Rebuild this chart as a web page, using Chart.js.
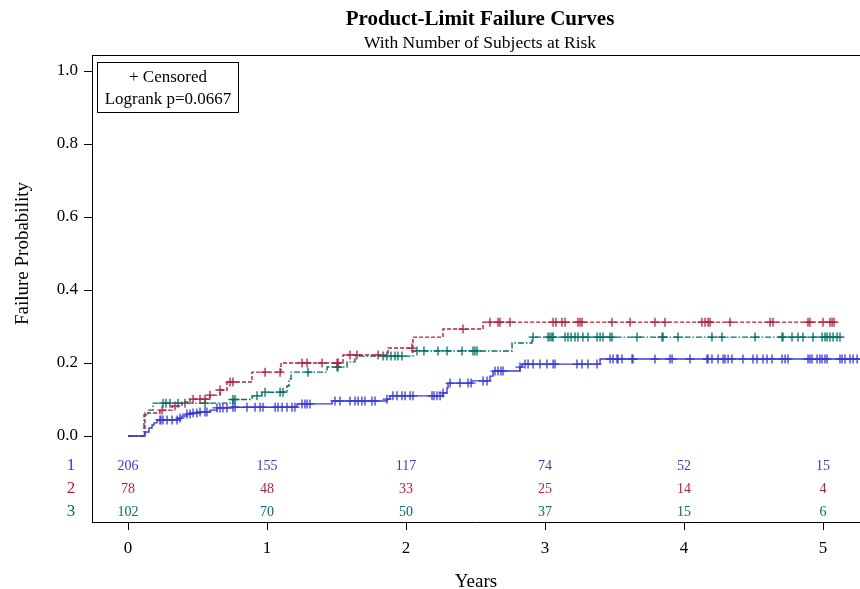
<!DOCTYPE html>
<html>
<head>
<meta charset="utf-8">
<script src="https://cdn.jsdelivr.net/npm/chart.js@4.4.1/dist/chart.umd.min.js"></script>
<style>
  html, body { margin: 0; padding: 0; background: #fff; }
  #wrap { width: 860px; height: 589px; }
</style>
</head>
<body>
<div id="wrap"><canvas id="km" width="860" height="589"></canvas></div>
<script>
// ---- data ----
var groupNames = ['1', '2', '3'];
var groupColors = ['#3838e2', '#b81f3c', '#00706a'];

// step curves: time (years) and failure probability after that time
var timesG1 = [0, 0.122, 0.151, 0.173, 0.187, 0.209, 0.360, 0.388, 0.424, 0.460, 0.518, 0.590, 0.640, 0.755, 1.216, 1.468, 1.863, 1.885, 2.266, 2.295, 2.302, 2.475, 2.604, 2.626, 2.820, 2.835, 3.396, 5.300];
var probG1  = [0, 0.011, 0.022, 0.030, 0.036, 0.044, 0.049, 0.055, 0.060, 0.063, 0.066, 0.071, 0.077, 0.079, 0.088, 0.096, 0.101, 0.110, 0.118, 0.132, 0.145, 0.151, 0.164, 0.178, 0.189, 0.197, 0.211, 0.211];

var timesG2 = [0, 0.122, 0.230, 0.317, 0.388, 0.446, 0.590, 0.662, 0.712, 0.892, 1.101, 1.547, 1.871, 2.050, 2.266, 2.554, 5.086];
var probG2  = [0, 0.063, 0.071, 0.082, 0.093, 0.101, 0.112, 0.126, 0.148, 0.175, 0.200, 0.222, 0.241, 0.271, 0.293, 0.312, 0.312];

var timesG3 = [0, 0.115, 0.144, 0.180, 0.755, 0.892, 0.964, 1.144, 1.158, 1.173, 1.432, 1.576, 1.633, 2.050, 2.763, 2.906, 5.144];
var probG3  = [0, 0.058, 0.071, 0.090, 0.100, 0.110, 0.120, 0.137, 0.156, 0.175, 0.189, 0.203, 0.219, 0.233, 0.255, 0.271, 0.271];

// censoring times (years)
var censorG1 = [0.230, 0.237, 0.252, 0.281, 0.317, 0.353, 0.374, 0.424, 0.446, 0.468, 0.496, 0.518, 0.554, 0.568,
  0.640, 0.662, 0.683, 0.712, 0.755, 0.770, 0.856, 0.914, 0.950, 0.971, 1.058, 1.079, 1.108, 1.144, 1.180, 1.201,
  1.252, 1.273, 1.288, 1.309, 1.489, 1.525, 1.597, 1.633, 1.655, 1.683, 1.705, 1.755, 1.777, 1.863,
  1.906, 1.935, 1.971, 1.993, 2.029, 2.050, 2.187, 2.201, 2.223, 2.245, 2.266, 2.317, 2.388, 2.446, 2.468, 2.554, 2.583,
  2.640, 2.662, 2.683, 2.698, 2.820, 2.856, 2.878, 2.914, 2.964, 3.014, 3.058, 3.072, 3.230, 3.266, 3.309, 3.374,
  3.468, 3.489, 3.518, 3.525, 3.554, 3.626, 3.633, 3.791, 3.899, 3.914, 4.043, 4.165, 4.173, 4.201, 4.245, 4.281,
  4.295, 4.317, 4.345, 4.424, 4.496, 4.525, 4.568, 4.597, 4.633, 4.705, 4.727, 4.748, 4.892, 4.906, 4.921, 4.957,
  4.978, 4.993, 5.014, 5.029, 5.122, 5.137, 5.158, 5.194, 5.216, 5.245];
var censorG2 = [0.245, 0.338, 0.468, 0.518, 0.554, 0.590, 0.662, 0.734, 0.755, 0.986, 1.094, 1.252, 1.288, 1.396,
  1.504, 1.511, 1.597, 1.647, 1.799, 2.043, 2.410, 2.604, 2.662, 2.676, 2.748, 3.058, 3.079, 3.122, 3.144, 3.237,
  3.252, 3.266, 3.482, 3.612, 3.791, 3.863, 4.129, 4.151, 4.173, 4.187, 4.331, 4.619, 4.640, 4.892, 4.906, 5.000,
  5.050, 5.065, 5.079];
var censorG3 = [0.252, 0.273, 0.302, 0.360, 0.410, 0.554, 0.755, 0.770, 0.928, 0.986, 1.094, 1.115, 1.295, 1.504,
  1.511, 1.835, 1.863, 1.892, 1.921, 1.942, 1.971, 2.079, 2.129, 2.230, 2.295, 2.403, 2.482, 2.496, 2.511, 2.914,
  3.022, 3.036, 3.050, 3.058, 3.144, 3.165, 3.187, 3.216, 3.237, 3.273, 3.309, 3.374, 3.396, 3.417, 3.468, 3.482,
  3.662, 3.842, 3.849, 3.957, 4.201, 4.273, 4.511, 4.705, 4.712, 4.777, 4.820, 4.856, 4.928, 4.993, 5.014, 5.029,
  5.050, 5.072, 5.101, 5.122];

// number at risk
var atRiskTimes = [0, 1, 2, 3, 4, 5];
var atRiskG1 = [206, 155, 117, 74, 52, 15];
var atRiskG2 = [78, 48, 33, 25, 14, 4];
var atRiskG3 = [102, 70, 50, 37, 15, 6];

var xTicks = [0, 1, 2, 3, 4, 5];
var yTicks = [0, 0.2, 0.4, 0.6, 0.8, 1.0];

var FONT = "'Liberation Serif', 'Times New Roman', serif";

function curvePoints(times, probs) {
  return times.map(function (t, i) { return { x: t, y: probs[i] }; });
}
function valueAt(times, probs, t) {
  var v = probs[0];
  for (var i = 0; i < times.length; i++) {
    if (times[i] <= t) v = probs[i];
  }
  return v;
}
function censorPoints(cens, times, probs) {
  return cens.map(function (t) { return { x: t, y: valueAt(times, probs, t) }; });
}

var curves = [[timesG1, probG1, censorG1, []], [timesG2, probG2, censorG2, [4, 2]], [timesG3, probG3, censorG3, [6, 2, 1.5, 2]]];
var atRisk = [atRiskG1, atRiskG2, atRiskG3];

var datasets = [];
curves.forEach(function (c, i) {
  datasets.push({
    label: 'Group ' + groupNames[i],
    data: curvePoints(c[0], c[1]),
    showLine: true,
    stepped: true,
    borderColor: groupColors[i],
    borderWidth: 1.4,
    borderDash: c[3],
    pointRadius: 0,
    fill: false
  });
  datasets.push({
    label: 'Censored ' + groupNames[i],
    data: censorPoints(c[2], c[0], c[1]),
    showLine: false,
    pointStyle: 'cross',
    pointRadius: 4.5,
    pointBorderWidth: 1.3,
    pointBorderColor: groupColors[i],
    pointBackgroundColor: groupColors[i]
  });
});

var decorations = {
  id: 'decorations',
  afterDraw: function (chart) {
    var ctx = chart.ctx, a = chart.chartArea;
    var xs = chart.scales.x, ys = chart.scales.y;
    ctx.save();
    // top frame line
    ctx.strokeStyle = '#000';
    ctx.lineWidth = 1;
    ctx.beginPath();
    ctx.moveTo(a.left, a.top + 0.5);
    ctx.lineTo(a.right, a.top + 0.5);
    ctx.stroke();

    ctx.fillStyle = '#000';
    ctx.textAlign = 'center';
    ctx.textBaseline = 'alphabetic';
    ctx.font = 'bold 21px ' + FONT;
    ctx.fillText('Product-Limit Failure Curves', 480, 25);
    ctx.font = '17.5px ' + FONT;
    ctx.fillText('With Number of Subjects at Risk', 480, 48);

    // axis titles
    ctx.font = '19px ' + FONT;
    ctx.fillText('Years', (a.left + a.right) / 2, 587);
    ctx.save();
    ctx.translate(28, (ys.getPixelForValue(0) + ys.getPixelForValue(1)) / 2);
    ctx.rotate(-Math.PI / 2);
    ctx.fillText('Failure Probability', 0, 0);
    ctx.restore();

    // legend box
    ctx.strokeStyle = '#000';
    ctx.strokeRect(97.5, 62.5, 141, 50);
    ctx.font = '17px ' + FONT;
    ctx.textBaseline = 'middle';
    ctx.fillText('+ Censored', 168, 78);
    ctx.fillText('Logrank p=0.0667', 168, 100);

    // at-risk table
    var y0 = ys.getPixelForValue(0);
    var rowOffsets = [30, 53, 76];
    atRisk.forEach(function (row, g) {
      ctx.fillStyle = groupColors[g];
      ctx.font = '17px ' + FONT;
      ctx.textAlign = 'center';
      ctx.fillText(groupNames[g], 71, y0 + rowOffsets[g]);
      ctx.font = '14px ' + FONT;
      row.forEach(function (n, k) {
        ctx.fillText(String(n), xs.getPixelForValue(atRiskTimes[k]), y0 + rowOffsets[g]);
      });
    });
    ctx.restore();
  }
};

new Chart(document.getElementById('km'), {
  type: 'scatter',
  data: { datasets: datasets },
  options: {
    responsive: false,
    animation: false,
    devicePixelRatio: 1,
    layout: { autoPadding: false, padding: { top: 55, left: 0, right: 0, bottom: 0 } },
    plugins: {
      legend: { display: false },
      tooltip: { enabled: false },
      title: { display: false }
    },
    scales: {
      x: {
        type: 'linear',
        min: -0.259,
        max: 5.266,
        afterBuildTicks: function (s) { s.ticks = xTicks.map(function (v) { return { value: v }; }); },
        afterFit: function (s) { s.height = 67; },
        grid: { display: true, drawOnChartArea: false, drawTicks: true, tickLength: 8, color: '#000', lineWidth: 1 },
        border: { display: true, color: '#000', width: 1 },
        ticks: {
          color: '#000',
          padding: 8,
          maxRotation: 0,
          font: { family: FONT, size: 17 },
          callback: function (v) { return String(v); }
        }
      },
      y: {
        type: 'linear',
        min: -0.2356,
        max: 1.0439,
        afterBuildTicks: function (s) { s.ticks = yTicks.map(function (v) { return { value: v }; }); },
        afterFit: function (s) { s.width = 92; },
        grid: { display: true, drawOnChartArea: false, drawTicks: true, tickLength: 8, color: '#000', lineWidth: 1 },
        border: { display: true, color: '#000', width: 1 },
        ticks: {
          color: '#000',
          padding: 6,
          font: { family: FONT, size: 17 },
          callback: function (v) { return v.toFixed(1); }
        }
      }
    }
  },
  plugins: [decorations]
});
</script>
</body>
</html>
